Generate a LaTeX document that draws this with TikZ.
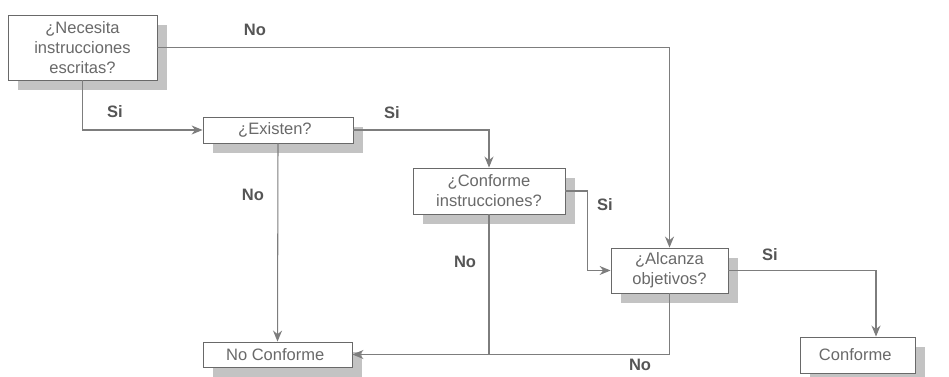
\documentclass[tikz,border=0pt]{standalone}
\usepackage{fontspec}
\setmainfont{Liberation Sans}
\definecolor{InkGray}{RGB}{105,105,105}
\definecolor{LineGray}{RGB}{125,125,125}
\definecolor{ShadeGray}{RGB}{195,195,195}
\definecolor{AnswerGray}{RGB}{85,85,85}
\usetikzlibrary{
    arrows.meta,
    positioning,
    calc,
    shadows
}

\begin{document}
\begin{tikzpicture}[
    x=0.02cm,
    y=-0.02cm,
%
    question/.style={
        draw=InkGray,
        fill=white,
        drop shadow={
            shadow xshift=0.2cm,
            shadow yshift=-0.2cm,
            fill=ShadeGray,
            opacity=1
        },
        align=center,
        inner sep=1pt,
        text=InkGray,
        font=\fontsize{9.4}{11.4}\selectfont,
        line width=0.5pt
    },
%
    arrow/.style={
        -{Stealth[length=2.2mm,width=1.8mm]},
        line width=0.6pt,
        color=LineGray
    },
%
    line/.style={
        line width=0.6pt,
        color=LineGray
    },
%
    answer/.style={
        text=AnswerGray,
        font=\fontsize{9.4}{11.4}\selectfont\bfseries
    }
]
\useasboundingbox (0,0) rectangle (949,377);
%
% Question boxes
%
\node[
    question,
    minimum width=2.98cm,
    minimum height=1.3cm
] (need) at (82.5,47.5) {
    ¿Necesita\\
    instrucciones\\
    escritas?
};
%
\node[
    question,
    minimum width=3.0cm,
    minimum height=0.52cm
] (exist) at (278,130) {
    ¿Existen?
};
%
\node[
    question,
    minimum width=3.04cm,
    minimum height=0.92cm
] (follow) at (489,191) {
    ¿Conforme\\
    instrucciones?
};
%
\node[
    question,
    minimum width=2.34cm,
    minimum height=0.9cm
] (reach) at (669.5,270.5) {
    ¿Alcanza\\
    objetivos?
};
%
% Outcome boxes
%
\node[
    question,
    minimum width=2.98cm,
    minimum height=0.5cm
] (nonconf) at (277.5,354.5) {
    No Conforme
};
%
\node[
    question,
    minimum width=2.3cm,
    minimum height=0.72cm
] (conf) at (857.5,355) {
    Conforme
};
%
% Connectors
%
\draw[arrow] (need.east) -| (reach.north);
\draw[arrow] (need.south) |- (exist.west);
\draw[arrow] (exist.east) -| (follow.north);
\draw[arrow] (exist.south) -- (nonconf.north);
\draw[arrow]
    (follow.east)
    --
    ++(22,0)
    |-
    (reach.west);
\draw[line] (follow.south) -- (follow.south |- nonconf.east);
\draw[arrow] (reach.south) |- (nonconf.east);
\draw[arrow] (reach.east) -| ([xshift=0.37cm]conf.north);
%
% Answers
%
\node[answer] (needno) at (255,30) {No};
\node[answer] (needsi) at (115,112) {Si};
\node[answer] (existsi) at (392,113) {Si};
\node[answer] (existno) at (253,195) {No};
\node[answer] (followsi) at (605,205) {Si};
\node[answer] (followno) at (465,262) {No};
\node[answer] (reachsi) at (770,255) {Si};
\node[answer] (reachno) at (640,365) {No};
%
\end{tikzpicture}
\end{document}
